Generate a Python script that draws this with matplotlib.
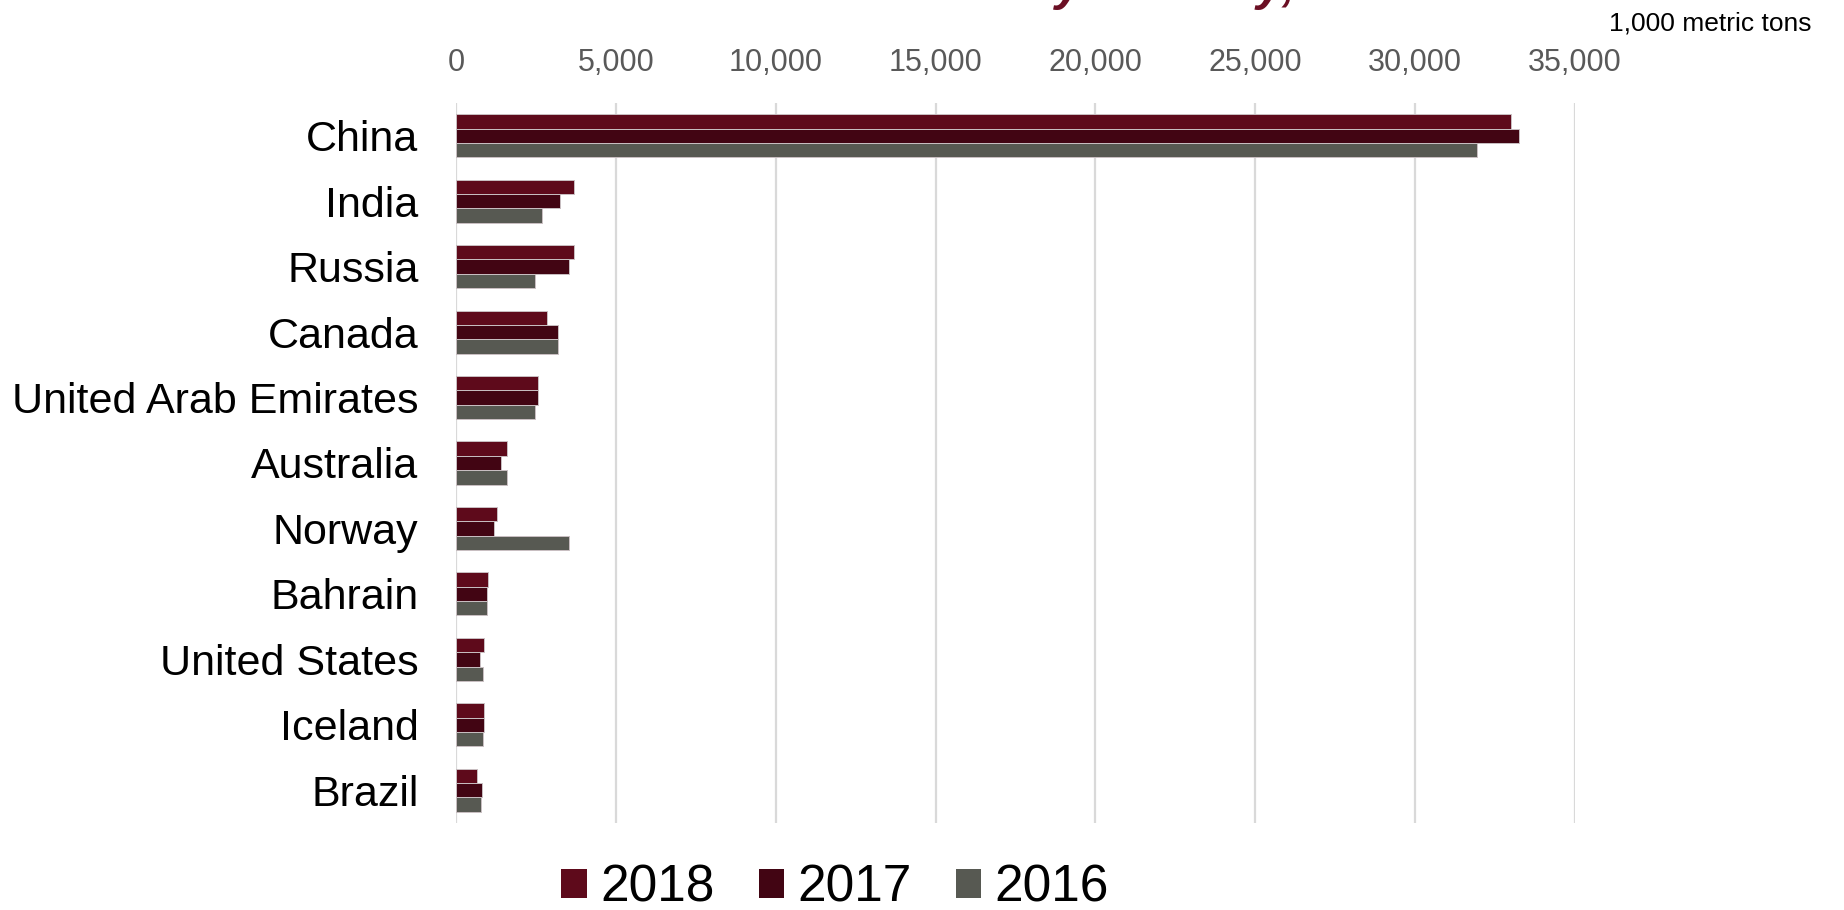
import matplotlib
matplotlib.use("Agg")
import matplotlib.pyplot as plt
from matplotlib.patches import Patch
import numpy as np

plt.rcParams['font.family'] = ['Liberation Sans', 'DejaVu Sans']

countries = ["China", "India", "Russia", "Canada", "United Arab Emirates",
             "Australia", "Norway", "Bahrain", "United States", "Iceland", "Brazil"]
years = ["2018", "2017", "2016"]
v2018 = [33000, 3680, 3680, 2860, 2570, 1580, 1270, 1000, 890, 870, 660]
v2017 = [33240, 3240, 3550, 3190, 2570, 1420, 1200, 980, 740, 880, 800]
v2016 = [31940, 2700, 2470, 3200, 2470, 1610, 3550, 970, 840, 850, 790]
xticks = [0, 5000, 10000, 15000, 20000, 25000, 30000, 35000]
title = "Global Aluminum Production by Country, 2016-18"

colors = ["#5E0A1B", "#420513", "#575952"]
title_color = "#6B0F24"

W, H = 1844, 910
fig = plt.figure(figsize=(W / 100, H / 100), dpi=100)
ax = fig.add_axes([456 / W, 1 - 823 / H, (1575 - 456) / W, (823 - 103) / H])

y = np.arange(len(countries))
bh = 0.219
series = [v2018, v2017, v2016]
for i, (vals, col) in enumerate(zip(series, colors)):
    ax.barh(y + (i - 1) * bh, vals, height=bh, color=col,
            edgecolor="#C9BFC2", linewidth=0.7, zorder=3, label=years[i])

ax.set_ylim(len(countries) - 0.5, -0.5)
ax.set_xlim(0, 35000)
ax.set_yticks(y)
ax.set_yticklabels(countries, fontsize=31, color="black")
ax.set_xticks(xticks)
ax.set_xticklabels([f"{t:,}" for t in xticks], fontsize=22, color="#595959")
ax.xaxis.tick_top()
ax.tick_params(axis="x", length=0, pad=18)
ax.tick_params(axis="y", length=0, pad=27)
ax.grid(axis="x", color="#D9D9D9", linewidth=1.6, zorder=0)
for s in ax.spines.values():
    s.set_visible(False)

fig.text(1811 / W, 1 - 24 / H, "1,000 metric tons", fontsize=19, color="black",
         ha="right", va="center")

# title: mostly above the top edge, as in the reference
tprops = dict(fontsize=35.3, fontweight="bold", fontstyle="italic", color=title_color)
renderer = fig.canvas.get_renderer()
probe = fig.text(0, 0, title[:title.index("by") + 1], **tprops)
prefix_w = probe.get_window_extent(renderer).width
probe.remove()
probe = fig.text(0, 0, "y", **tprops)
y_w = probe.get_window_extent(renderer).width
probe.remove()
x0 = 1069 - prefix_w - y_w / 2
fig.text(x0 / W, 1.0, title, ha="left", va="baseline", **tprops)

handles = [Patch(facecolor=c, edgecolor="none") for c in colors]
fig.legend(handles, years, loc="center", bbox_to_anchor=(835 / W, 1 - 888 / H),
           ncol=3, frameon=False, fontsize=37, handlelength=0.5, handleheight=0.5,
           handletextpad=0.25, columnspacing=0.86, borderpad=0, borderaxespad=0)

fig.savefig("out.png", dpi=100)
